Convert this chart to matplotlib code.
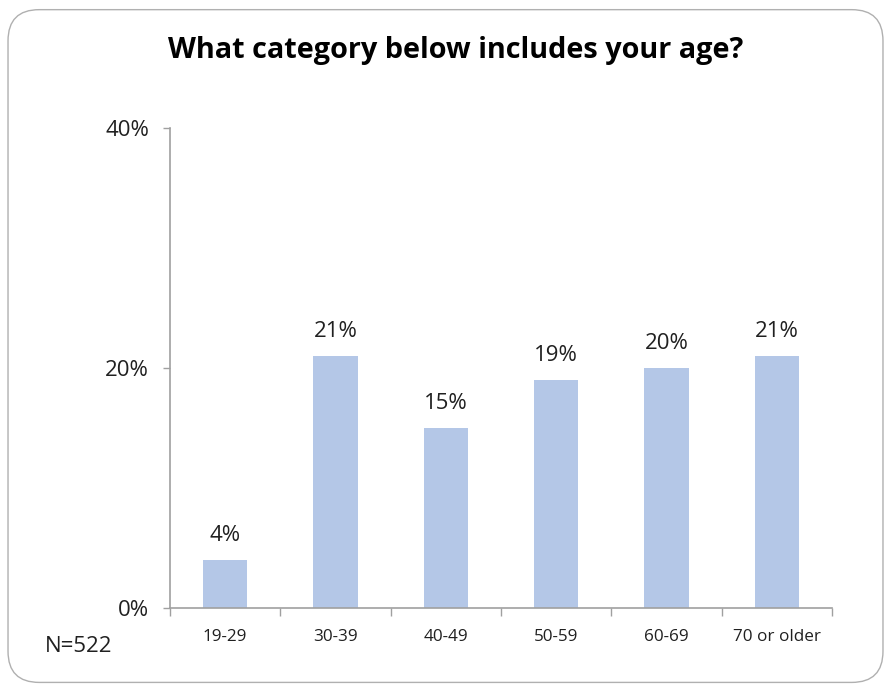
import matplotlib.pyplot as plt
from matplotlib.patches import FancyBboxPatch
import numpy as np

categories = ['19-29', '30-39', '40-49', '50-59', '60-69', '70 or older']
values = [4, 21, 15, 19, 20, 21]
yticks = [0, 20, 40]

plt.rcParams['font.family'] = ['Open Sans', 'DejaVu Sans']

fig = plt.figure(figsize=(8.91, 6.9), dpi=100)

# rounded frame around the whole chart
frame = FancyBboxPatch((0.009, 0.011), 0.982, 0.975,
                       boxstyle='round,pad=0,rounding_size=0.035',
                       transform=fig.transFigure, facecolor='white',
                       edgecolor='#b0b0b0', linewidth=1.0, zorder=0,
                       mutation_aspect=891 / 690)
fig.patches.append(frame)

ax = fig.add_axes([0.1908, 0.1188, 0.743, 0.6957])
ax.set_facecolor('none')
ax.set_zorder(2)

x = np.arange(len(categories))
bars = ax.bar(x, values, width=0.4, color='#b4c7e7', zorder=2)

for xi, v in zip(x, values):
    ax.text(xi, v + 1.2, f'{v}%', ha='center', va='bottom',
            fontsize=16, color='#202020')

ax.set_xlim(-0.5, len(categories) - 0.5)
ax.set_ylim(0, 40)

ax.set_yticks(yticks)
ax.set_yticklabels([f'{t}%' for t in yticks], fontsize=16, color='#202020')
ax.tick_params(axis='y', length=5, width=1, color='#a0a0a0', pad=10)

ax.set_xticks(x)
ax.set_xticklabels(categories, fontsize=12.3, color='#202020')
ax.tick_params(axis='x', which='major', length=0, pad=15)
ax.set_xticks(np.arange(-0.5, len(categories)), minor=True)
ax.tick_params(axis='x', which='minor', length=6, width=1, color='#a0a0a0')

for side in ['top', 'right']:
    ax.spines[side].set_visible(False)
for side in ['left', 'bottom']:
    ax.spines[side].set_color('#a0a0a0')
    ax.spines[side].set_linewidth(1.2)

fig.text(0.511, 0.927, 'What category below includes your age?',
         ha='center', va='center', fontsize=20.8, fontweight='bold',
         color='#000000')
fig.text(0.05, 0.063, 'N=522', ha='left', va='center', fontsize=16,
         color='#202020')

fig.savefig('out.png', dpi=100)
